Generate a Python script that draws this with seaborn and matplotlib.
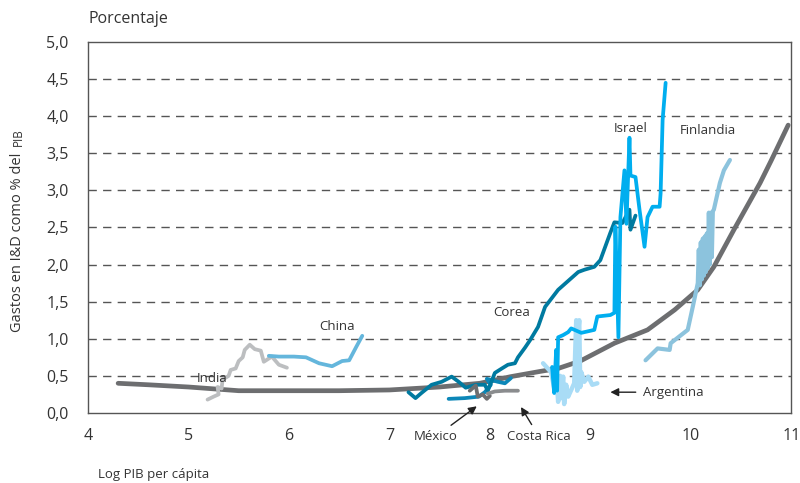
import numpy as np
import pandas as pd
import matplotlib
matplotlib.use("Agg")
import matplotlib.pyplot as plt
import seaborn as sns

# curva ajustada (tendencia)
fit_x = [4.30, 4.60, 5.00, 5.40, 5.50, 6.00, 6.50, 7.00, 7.50, 7.90, 8.21, 8.50,
         8.68, 8.90, 9.24, 9.57, 9.84, 10.07, 10.23, 10.43, 10.69, 10.80, 10.97]
fit_y = [0.40, 0.38, 0.35, 0.31, 0.30, 0.30, 0.30, 0.31, 0.35, 0.40, 0.49, 0.56,
         0.60, 0.70, 0.94, 1.12, 1.39, 1.66, 1.97, 2.47, 3.10, 3.40, 3.88]

india_x = [5.19, 5.25, 5.30, 5.29, 5.33, 5.34, 5.40, 5.42, 5.47, 5.50, 5.54, 5.56,
           5.61, 5.66, 5.72, 5.75, 5.83, 5.90, 5.98]
india_y = [0.18, 0.22, 0.25, 0.35, 0.33, 0.45, 0.50, 0.58, 0.60, 0.70, 0.75, 0.85,
           0.92, 0.86, 0.84, 0.69, 0.76, 0.65, 0.61]

china_x = [5.80, 5.90, 6.05, 6.17, 6.30, 6.43, 6.53, 6.60, 6.67, 6.73]
china_y = [0.77, 0.76, 0.76, 0.75, 0.67, 0.63, 0.70, 0.71, 0.89, 1.04]

corea_x = [7.19, 7.26, 7.32, 7.42, 7.52, 7.62, 7.69, 7.76, 7.86, 7.95, 7.98, 8.05,
           8.12, 8.18, 8.25, 8.28, 8.35, 8.40, 8.48, 8.55, 8.68, 8.88, 8.94, 9.04,
           9.10, 9.20, 9.24, 9.32, 9.39, 9.40, 9.45]
corea_y = [0.28, 0.20, 0.27, 0.38, 0.42, 0.49, 0.42, 0.34, 0.38, 0.38, 0.30, 0.54,
           0.60, 0.65, 0.67, 0.75, 0.88, 0.98, 1.16, 1.43, 1.66, 1.90, 1.93, 1.97,
           2.06, 2.43, 2.57, 2.56, 2.74, 2.47, 2.66]

otro_x = [7.59, 7.75, 7.89, 7.95, 8.01, 7.97, 8.08, 8.15, 8.21]
otro_y = [0.19, 0.20, 0.22, 0.28, 0.38, 0.46, 0.42, 0.40, 0.47]

mexico_x = [7.80, 7.86, 7.88, 7.93, 7.97, 8.00]
mexico_y = [0.30, 0.37, 0.22, 0.25, 0.19, 0.23]

costa_rica_x = [7.98, 8.05, 8.15, 8.28]
costa_rica_y = [0.26, 0.29, 0.30, 0.30]

israel_x = [8.62, 8.64, 8.66, 8.67, 8.68, 8.73, 8.78, 8.81, 8.91, 9.04, 9.07, 9.20,
            9.24, 9.25, 9.28, 9.30, 9.34, 9.36, 9.39, 9.40, 9.45, 9.49, 9.54, 9.57,
            9.62, 9.69, 9.70, 9.72, 9.75]
israel_y = [0.62, 0.27, 0.85, 0.30, 1.02, 1.05, 1.09, 1.14, 1.08, 1.12, 1.30, 1.32,
            1.35, 2.51, 1.02, 2.64, 3.27, 2.55, 3.71, 3.20, 3.18, 2.74, 2.24, 2.64,
            2.78, 2.78, 2.96, 3.95, 4.45]

argentina_x = [8.53, 8.61, 8.65, 8.66, 8.68, 8.70, 8.71, 8.73, 8.74, 8.76, 8.78, 8.81,
               8.84, 8.86, 8.87, 8.88, 8.89, 8.90, 8.91, 8.94, 8.98, 9.02, 9.07]
argentina_y = [0.67, 0.55, 0.27, 0.60, 0.15, 0.50, 0.20, 0.49, 0.12, 0.38, 0.22, 0.31,
               0.40, 1.25, 0.30, 1.10, 1.25, 0.35, 0.55, 0.42, 0.49, 0.38, 0.40]

finlandia_x = [9.55, 9.67, 9.79, 9.80, 9.97, 10.02, 10.07, 10.08, 10.09, 10.10, 10.11,
               10.12, 10.13, 10.14, 10.15, 10.16, 10.17, 10.18, 10.19, 10.20, 10.21,
               10.22, 10.23, 10.29, 10.33, 10.39]
finlandia_y = [0.71, 0.87, 0.85, 0.94, 1.12, 1.43, 1.75, 2.20, 1.72, 2.30, 1.80,
               2.35, 1.85, 2.38, 1.90, 2.42, 1.95, 2.70, 2.00, 2.70, 2.10, 2.72,
               2.74, 3.10, 3.27, 3.41]

colores = {
    "India": "#bcbec0",
    "China": "#64b6dc",
    "Otro": "#0c87b8",
    "Corea": "#007aa0",
    "México": "#6d6e70",
    "Costa Rica": "#8a8c8e",
    "Argentina": "#a9dcf6",
    "Israel": "#00aeef",
    "Finlandia": "#8cc3dd",
}
grosor = {"Argentina": 3.2, "Finlandia": 3.0}

series = {
    "India": (india_x, india_y),
    "China": (china_x, china_y),
    "Otro": (otro_x, otro_y),
    "Corea": (corea_x, corea_y),
    "México": (mexico_x, mexico_y),
    "Costa Rica": (costa_rica_x, costa_rica_y),
    "Argentina": (argentina_x, argentina_y),
    "Finlandia": (finlandia_x, finlandia_y),
    "Israel": (israel_x, israel_y),
}

frames = []
for pais, (xs, ys) in series.items():
    frames.append(pd.DataFrame({"x": xs, "y": ys, "pais": pais}))
df = pd.concat(frames, ignore_index=True)
fit_df = pd.DataFrame({"x": fit_x, "y": fit_y})

sns.set_style("white")
plt.rcParams["font.family"] = ["Open Sans", "DejaVu Sans"]

fig = plt.figure(figsize=(8, 4.83), dpi=100)
ax = fig.add_axes([0.11, 0.145, 0.879, 0.768])

# lineas de referencia discontinuas
for v in np.arange(0.5, 5.0, 0.5):
    ax.axhline(v, color="#555555", lw=1, dashes=(6, 4.5), zorder=0)

sns.lineplot(data=fit_df, x="x", y="y", sort=False, estimator=None,
             color="#6d6e70", lw=3.4, ax=ax, zorder=2)

for pais in series:
    sub = df[df["pais"] == pais]
    sns.lineplot(data=sub, x="x", y="y", sort=False, estimator=None,
                 color=colores[pais], lw=grosor.get(pais, 2.7), ax=ax, zorder=3)

ax.set_xlim(4, 11)
ax.set_ylim(0, 5)
ax.set_xticks(range(4, 12))
ax.set_xticklabels([str(i) for i in range(4, 12)], fontsize=11.5, color="#333333")
yt = np.arange(0, 5.01, 0.5)
ax.set_yticks(yt)
ax.set_yticklabels([f"{v:.1f}".replace(".", ",") for v in yt], fontsize=11.5, color="#333333")
ax.tick_params(axis="both", direction="out", length=6, width=1, color="#555555", pad=5)
ax.tick_params(axis="y", pad=8)
for s in ax.spines.values():
    s.set_visible(True)
    s.set_color("#555555")
    s.set_linewidth(1)
ax.set_xlabel("")
ax.set_ylabel("")

fig.text(0.111, 0.961, "Porcentaje", fontsize=11.5, color="#333333", va="center")
fig.text(0.122, 0.017, "Log PIB per cápita", fontsize=9.5, color="#333333", va="center")

# etiqueta del eje y con "PIB" en tamaño menor
yl = fig.text(0.022, 0.313, "Gastos en I&D como % del", fontsize=10.5, color="#333333",
              rotation=90, ha="center", va="bottom")
fig.canvas.draw()
bb = yl.get_window_extent().transformed(fig.transFigure.inverted())
fig.text(0.0235, bb.y1 + 0.013, "PIB", fontsize=8.5, color="#333333",
         rotation=90, ha="center", va="bottom")

etq = dict(fontsize=9.5, color="#333333", ha="center", va="center")
ax.text(5.24, 0.47, "India", **etq)
ax.text(6.48, 1.16, "China", **etq)
ax.text(8.22, 1.35, "Corea", **etq)
ax.text(9.40, 3.84, "Israel", **etq)
ax.text(10.17, 3.81, "Finlandia", **etq)
ax.text(9.52, 0.28, "Argentina", fontsize=9.5, color="#333333", ha="left", va="center")

flecha = dict(arrowstyle="-|>", color="#222222", lw=1, mutation_scale=12, shrinkA=2, shrinkB=0)
ax.annotate("", xy=(9.20, 0.28), xytext=(9.48, 0.28), arrowprops=flecha)
ax.annotate("México", xy=(7.87, 0.09), xytext=(7.46, -0.32), annotation_clip=False,
            arrowprops=flecha, **etq)
ax.annotate("Costa Rica", xy=(8.31, 0.08), xytext=(8.49, -0.32), annotation_clip=False,
            arrowprops=flecha, **etq)

fig.savefig("out.png", dpi=100)
